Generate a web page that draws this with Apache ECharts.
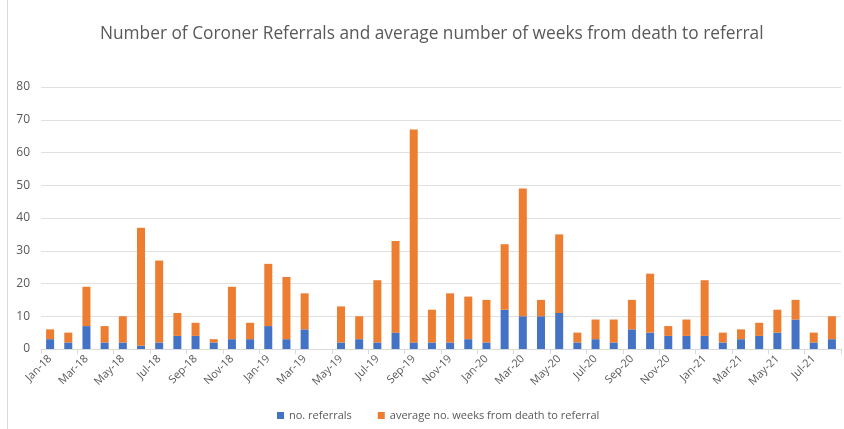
<!DOCTYPE html>
<html>
<head>
<meta charset="utf-8">
<script src="https://cdn.jsdelivr.net/npm/echarts@6/dist/echarts.min.js"></script>
<style>
  html, body { margin: 0; padding: 0; background: #fff; }
  #chart { width: 844px; height: 429px; }
</style>
</head>
<body>
<div id="chart"></div>
<script>
var months = ['Jan-18', 'Feb-18', 'Mar-18', 'Apr-18', 'May-18', 'Jun-18', 'Jul-18', 'Aug-18', 'Sep-18', 'Oct-18', 'Nov-18', 'Dec-18',
  'Jan-19', 'Feb-19', 'Mar-19', 'Apr-19', 'May-19', 'Jun-19', 'Jul-19', 'Aug-19', 'Sep-19', 'Oct-19', 'Nov-19', 'Dec-19',
  'Jan-20', 'Feb-20', 'Mar-20', 'Apr-20', 'May-20', 'Jun-20', 'Jul-20', 'Aug-20', 'Sep-20', 'Oct-20', 'Nov-20', 'Dec-20',
  'Jan-21', 'Feb-21', 'Mar-21', 'Apr-21', 'May-21', 'Jun-21', 'Jul-21', 'Aug-21']

// no. referrals (blue, bottom of the stack)
var referrals = [3, 2, 7, 2, 2, 1, 2, 4, 4, 2, 3, 3,
  7, 3, 6, 0, 2, 3, 2, 5, 2, 2, 2, 3,
  2, 12, 10, 10, 11, 2, 3, 2, 6, 5, 4, 4,
  4, 2, 3, 4, 5, 9, 2, 3]

// average no. weeks from death to referral (orange, stacked on top)
var avgWeeks = [3, 3, 12, 5, 8, 36, 25, 7, 4, 1, 16, 5,
  19, 19, 11, 0, 11, 7, 19, 28, 65, 10, 15, 13,
  13, 20, 39, 5, 24, 3, 6, 7, 9, 18, 3, 5,
  17, 3, 3, 4, 7, 6, 3, 7]

var yTicks = { min: 0, max: 80, interval: 10 }

var chart = echarts.init(document.getElementById('chart'))
var option = {
  animation: false,
  textStyle: { fontFamily: 'Open Sans' },
  // faint chart frame on the left, as in the spreadsheet export
  graphic: [{
    type: 'line',
    shape: { x1: 7.5, y1: 0, x2: 7.5, y2: 429 },
    style: { stroke: '#d9d9d9', lineWidth: 1 }
  }],
  title: {
    text: 'Number of Coroner Referrals and average number of weeks from death to referral',
    left: 95,
    top: 21,
    textStyle: {
      fontSize: 17.3,
      fontWeight: 'normal',
      color: '#595959',
      fontFamily: 'Open Sans'
    }
  },
  legend: {
    bottom: 3,
    left: 272,
    itemWidth: 7,
    itemHeight: 7,
    itemGap: 26,
    icon: 'rect',
    textStyle: { fontSize: 11, color: '#595959' },
    data: ['no. referrals', 'average no. weeks from death to referral']
  },
  grid: {
    left: 41,
    right: 3,
    top: 87,
    bottom: 80
  },
  xAxis: {
    type: 'category',
    data: months,
    axisLine: { lineStyle: { color: '#d9d9d9' } },
    axisTick: { show: true, interval: 1, length: 5, lineStyle: { color: '#d9d9d9' } },
    axisLabel: {
      interval: 1,
      rotate: 45,
      fontSize: 11,
      color: '#595959',
      margin: 8
    }
  },
  yAxis: {
    type: 'value',
    min: yTicks.min,
    max: yTicks.max,
    interval: yTicks.interval,
    axisLine: { show: false },
    axisTick: { show: false },
    axisLabel: { fontSize: 12, color: '#595959', margin: 11 },
    splitLine: { lineStyle: { color: '#e0e0e0', width: 1 } }
  },
  series: [
    {
      name: 'no. referrals',
      type: 'bar',
      stack: 'total',
      barWidth: '44%',
      itemStyle: { color: '#4472c4' },
      data: referrals
    },
    {
      name: 'average no. weeks from death to referral',
      type: 'bar',
      stack: 'total',
      barWidth: '44%',
      itemStyle: { color: '#ed7d31' },
      data: avgWeeks
    }
  ]
}
chart.setOption(option)
</script>
</body>
</html>
